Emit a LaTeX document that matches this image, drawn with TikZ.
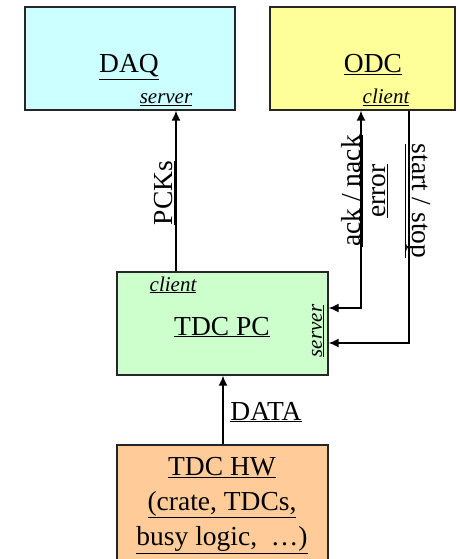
\documentclass[tikz,border=0pt]{standalone}
\usepackage{fontspec}
\setmainfont{Liberation Serif}
\usetikzlibrary{arrows.meta}
\definecolor{daqc}{HTML}{CCFFFF}
\definecolor{odcc}{HTML}{FFFF99}
\definecolor{pcc}{HTML}{CCFFCC}
\definecolor{hwc}{HTML}{FFCC99}
\tikzset{
  boxnode/.style={draw=black!85, line width=1.4pt, inner sep=0pt, rectangle},
  bigtxt/.style={inner sep=0pt, font=\fontsize{27.5}{30}\selectfont},
  smalltxt/.style={inner sep=0pt, font=\fontsize{21}{22}\selectfont\itshape},
  arr/.style={line width=1.4pt, -{Latex[length=10pt,width=9pt]}},
  arrtwo/.style={line width=1.4pt, {Latex[length=10pt,width=9pt]}-{Latex[length=10pt,width=9pt]}},
}
\begin{document}
\begin{tikzpicture}[x=1pt,y=-1pt]
\useasboundingbox (0,0) rectangle (459,559);
\clip (0,0) rectangle (459,559);
% boxes
\node[boxnode, fill=daqc, minimum width=210pt, minimum height=103pt] (daq) at (130,58.5) {};
\node[boxnode, fill=odcc, minimum width=185pt, minimum height=103pt] (odc) at (362.5,58.5) {};
\node[boxnode, fill=pcc, minimum width=211pt, minimum height=103pt] (pc) at (222.5,323.5) {};
\node[boxnode, fill=hwc, minimum width=211pt, minimum height=160pt] (hw) at (222.5,525) {};
% box texts
\node[bigtxt, anchor=base] (daqt) at (129,73) {\underline{DAQ}};
\node[bigtxt, anchor=base] (odct) at (373,73) {\underline{ODC}};
\node[smalltxt, anchor=base] (daqs) at (166,104) {\underline{server}};
\node[smalltxt, anchor=base] (odcl) at (386,104) {\underline{client}};
\node[smalltxt, anchor=base] (pcl) at (173,291) {\underline{client}};
\node[bigtxt, anchor=base] (pct) at (222,335) {\underline{TDC PC}};
\node[smalltxt, rotate=90] (pcs) at (318,331) {\underline{server}};
\node[inner sep=0pt, anchor=north, align=center, font=\fontsize{27.5}{35}\selectfont] (hwt) at (222,457)
  {\underline{TDC HW}\\\underline{(crate, TDCs,}\\\underline{busy logic,\ \ \dots)}};
% connectors
\draw[arr] (176,0 |- pc.north) -- (176,0 |- daq.south);
\draw[arrtwo] (pc.east |- 0,308) -| (361,0 |- odc.south);
\draw[arr] (409,0 |- odc.south) |- (pc.east |- 0,343);
\draw[arr] (223,0 |- hw.north) -- (223,0 |- pc.south);
% connector labels
\node[bigtxt, rotate=90] (pcks) at (165,193) {\underline{PCKs}};
\node[inner sep=0pt, rotate=90, align=center, font=\fontsize{27.5}{25}\selectfont] (ackl) at (365,191)
  {\underline{ack / nack}\\\underline{error}};
\node[bigtxt, rotate=-90] (ssl) at (418,201) {\underline{start / stop}};
\node[bigtxt, anchor=base] (datal) at (266,420) {\underline{DATA}};
\end{tikzpicture}
\end{document}
